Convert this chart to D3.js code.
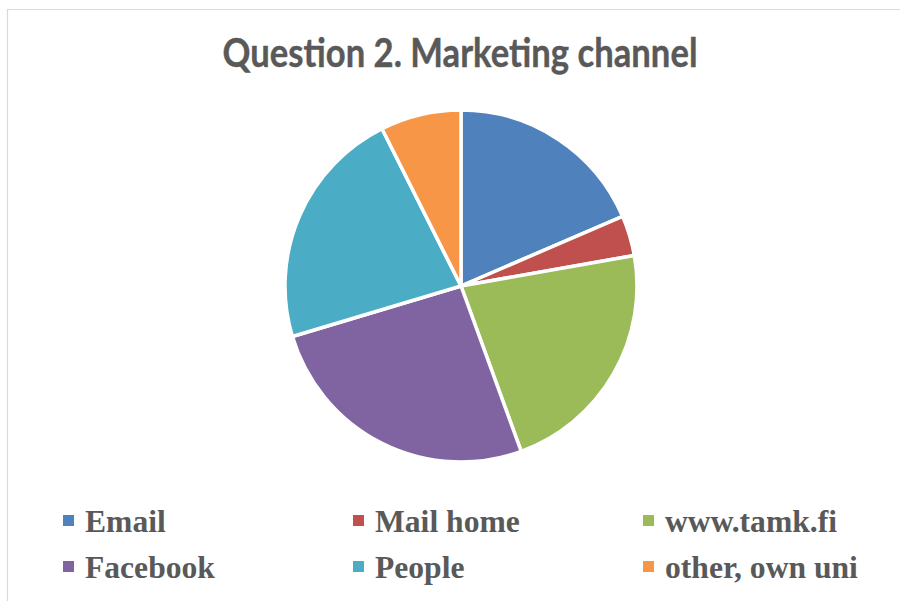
<!DOCTYPE html>
<html>
<head>
<meta charset="utf-8">
<script src="https://cdn.jsdelivr.net/npm/d3@7"></script>
<style>
  html, body { margin: 0; padding: 0; background: #ffffff; }
  svg { display: block; }
</style>
</head>
<body>
<svg id="chart" width="900" height="601"></svg>
<script>
// Survey answers: how respondents heard about the programme
const categories = ["Email", "Mail home", "www.tamk.fi", "Facebook", "People", "other, own uni"];
const counts = [5, 1, 6, 7, 6, 2];
const colors = ["#4F81BD", "#C0504D", "#9BBB59", "#8064A2", "#4BACC6", "#F79646"];
const title = "Question 2. Marketing channel";

const svg = d3.select("#chart");
const W = 900, H = 601;

// chart area frame (top and left edges visible)
svg.append("path")
  .attr("d", `M7.5,${H + 2} V9.5 H${W + 2}`)
  .attr("fill", "none")
  .attr("stroke", "#d9d9d9")
  .attr("stroke-width", 1.2);

// title
svg.append("text")
  .attr("x", 460)
  .attr("y", 67)
  .attr("text-anchor", "middle")
  .attr("font-family", "Lato, 'Open Sans', sans-serif")
  .attr("font-weight", "bold")
  .attr("font-size", 40)
  .attr("fill", "#595959")
  .attr("stroke", "#595959")
  .attr("stroke-width", 0.4)
  .attr("textLength", 475)
  .attr("lengthAdjust", "spacingAndGlyphs")
  .text(title);

// pie
const cx = 461, cy = 286, r = 176;
const data = categories.map((c, i) => ({ name: c, value: counts[i], color: colors[i] }));
const pie = d3.pie().value(d => d.value).sort(null).startAngle(0).endAngle(2 * Math.PI);
const arc = d3.arc().innerRadius(0).outerRadius(r);
const color = d3.scaleOrdinal().domain(categories).range(colors);

svg.append("g")
  .attr("transform", `translate(${cx},${cy})`)
  .selectAll("path")
  .data(pie(data))
  .join("path")
  .attr("d", arc)
  .attr("fill", d => color(d.data.name))
  .attr("stroke", "#ffffff")
  .attr("stroke-width", 3.5)
  .attr("stroke-linejoin", "round");

// legend: 3 columns, 2 rows
const colX = d3.scalePoint().domain([0, 1, 2]).range([63, 643]);
const rowY = d3.scalePoint().domain([0, 1]).range([532, 578]);
const legend = svg.append("g")
  .selectAll("g")
  .data(categories)
  .join("g")
  .attr("transform", (d, i) => `translate(${colX(i % 3)},${rowY(Math.floor(i / 3))})`);

legend.append("rect")
  .attr("x", 0)
  .attr("y", -17)
  .attr("width", 11)
  .attr("height", 11)
  .attr("fill", d => color(d));

legend.append("text")
  .attr("x", 22)
  .attr("y", 0)
  .attr("font-family", "'Liberation Serif', 'Times New Roman', serif")
  .attr("font-weight", "bold")
  .attr("font-size", 31.6)
  .attr("fill", "#595959")
  .text(d => d);
</script>
</body>
</html>
